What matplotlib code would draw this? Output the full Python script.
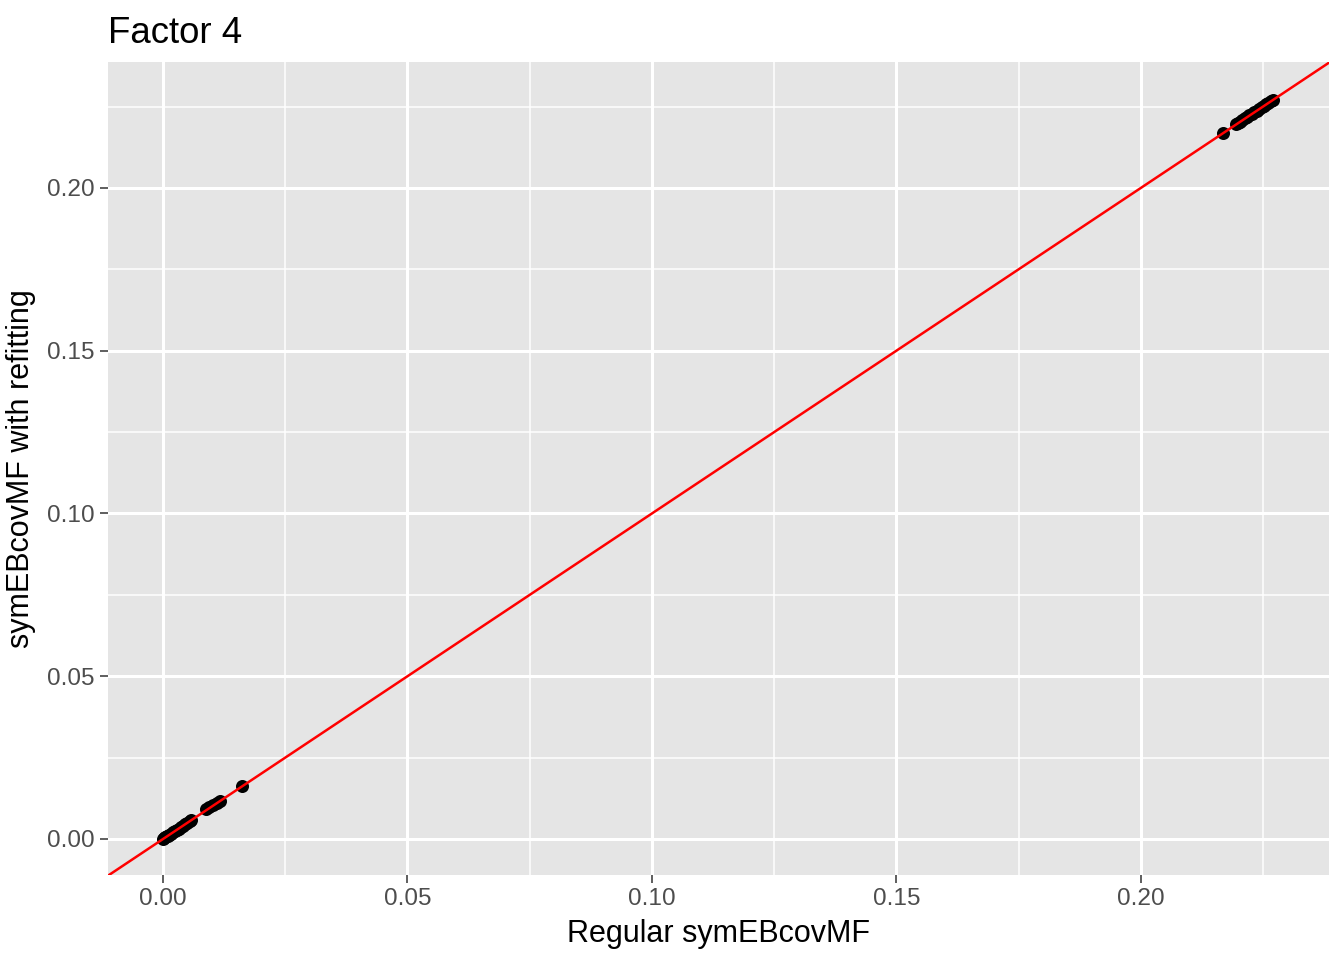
import numpy as np
import matplotlib.pyplot as plt

plt.rcParams['font.family'] = ['Liberation Sans', 'DejaVu Sans']

# loadings of factor 4: regular fit vs. fit with refitting
regular = [0.0, 0.0002, 0.0005, 0.0008, 0.001, 0.0013, 0.0016, 0.002, 0.0024,
           0.0028, 0.0032, 0.0036, 0.004, 0.0045, 0.005, 0.0055, 0.0058,
           0.0088, 0.0095, 0.0102, 0.011, 0.0116, 0.0162,
           0.2168, 0.2194, 0.2198, 0.2203, 0.2208, 0.2213, 0.2218, 0.2222,
           0.2227, 0.2232, 0.2237, 0.2242, 0.2247, 0.2252, 0.2257, 0.2261,
           0.2266, 0.227]
refit = [0.0, 0.0002, 0.0005, 0.0008, 0.001, 0.0013, 0.0016, 0.002, 0.0024,
         0.0028, 0.0032, 0.0036, 0.004, 0.0045, 0.005, 0.0055, 0.0058,
         0.0092, 0.0097, 0.0104, 0.0112, 0.0118, 0.0164,
         0.2170, 0.2195, 0.2199, 0.2204, 0.2209, 0.2214, 0.2219, 0.2223,
         0.2228, 0.2233, 0.2238, 0.2243, 0.2248, 0.2253, 0.2258, 0.2262,
         0.2267, 0.2271]

xticks = [0.00, 0.05, 0.10, 0.15, 0.20]
yticks = [0.00, 0.05, 0.10, 0.15, 0.20]

fig = plt.figure(figsize=(6.72, 4.8), dpi=200)
ax = fig.add_axes([108 / 1344, 1 - 875 / 960, (1329 - 108) / 1344, (875 - 62) / 960])
ax.set_facecolor('#E5E5E5')

ax.set_xlim(-0.01126, 0.2385)
ax.set_ylim(-0.01106, 0.2387)

ax.set_xticks(xticks)
ax.set_yticks(yticks)
ax.set_xticklabels(['%.2f' % v for v in xticks])
ax.set_yticklabels(['%.2f' % v for v in yticks])
ax.set_xticks([0.025, 0.075, 0.125, 0.175, 0.225], minor=True)
ax.set_yticks([0.025, 0.075, 0.125, 0.175, 0.225], minor=True)
ax.grid(which='major', color='white', linewidth=1.1)
ax.grid(which='minor', color='white', linewidth=0.55)
ax.tick_params(which='minor', length=0)
ax.tick_params(which='major', length=2.75, width=0.55, color='#333333',
               labelsize=8.8, labelcolor='#4D4D4D', pad=2)
ax.set_axisbelow(True)
for s in ax.spines.values():
    s.set_visible(False)

ax.scatter(regular, refit, s=22, color='black', zorder=3, linewidths=0)
ax.axline((0, 0), slope=1, color='red', linewidth=0.9, zorder=4)

ax.set_xlabel('Regular symEBcovMF', fontsize=11, labelpad=3)
ax.set_ylabel('symEBcovMF with refitting', fontsize=11, labelpad=4)
ax.set_title('Factor 4', fontsize=13.2, loc='left', pad=7)

fig.savefig('out.png', dpi=200)
